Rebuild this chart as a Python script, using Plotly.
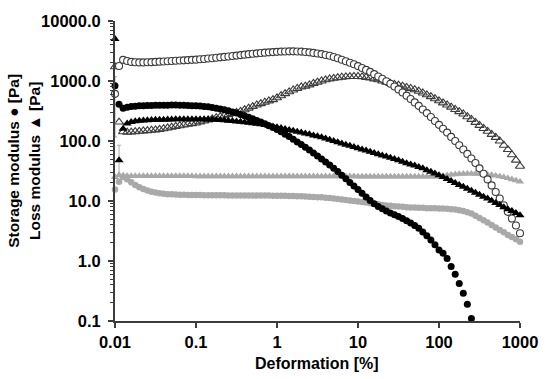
import plotly.graph_objects as go

# Strain sweep grid (deformation, %)
strain = [0.01, 0.01122, 0.01259, 0.01413, 0.01585, 0.01778, 0.01995, 0.02239, 0.02512, 0.02818,
          0.03162, 0.03548, 0.03981, 0.04467, 0.05012, 0.05623, 0.0631, 0.07079, 0.07943, 0.08913,
          0.1, 0.1122, 0.1259, 0.1413, 0.1585, 0.1778, 0.1995, 0.2239, 0.2512, 0.2818,
          0.3162, 0.3548, 0.3981, 0.4467, 0.5012, 0.5623, 0.631, 0.7079, 0.7943, 0.8913,
          1.0, 1.122, 1.259, 1.413, 1.585, 1.778, 1.995, 2.239, 2.512, 2.818,
          3.162, 3.548, 3.981, 4.467, 5.012, 5.623, 6.31, 7.079, 7.943, 8.913,
          10.0, 11.22, 12.59, 14.13, 15.85, 17.78, 19.95, 22.39, 25.12, 28.18,
          31.62, 35.48, 39.81, 44.67, 50.12, 56.23, 63.1, 70.79, 79.43, 89.13,
          100.0, 112.2, 125.9, 141.3, 158.5, 177.8, 199.5, 223.9, 251.2, 281.8,
          316.2, 354.8, 398.1, 446.7, 501.2, 562.3, 631.0, 707.9, 794.3, 891.3,
          1000.0]

# Storage modulus, sample 2 (open circles)
g1_open = [611, 1780, 2250, 2150, 2080, 2050, 2040, 2040, 2050, 2060,
           2080, 2100, 2110, 2130, 2150, 2170, 2190, 2210, 2230, 2250,
           2270, 2300, 2330, 2370, 2400, 2440, 2480, 2520, 2560, 2610,
           2650, 2700, 2750, 2800, 2850, 2890, 2930, 2970, 3000, 3030,
           3060, 3090, 3110, 3120, 3120, 3110, 3090, 3050, 3000, 2940,
           2880, 2810, 2720, 2630, 2510, 2400, 2260, 2140, 2020, 1900,
           1770, 1650, 1530, 1420, 1300, 1190, 1090, 990, 900, 812,
           725, 645, 570, 502, 440, 385, 335, 292, 251, 216,
           186, 160, 138, 117, 100, 85, 72, 61, 51, 43,
           35, 28.5, 22.9, 18.2, 14.1, 11.0, 8.5, 6.6, 5.1, 3.9,
           2.9]

# Loss modulus, sample 2 (open triangles)
g2_open = [1730, 207, 143, 140, 141, 143, 145, 147, 149, 151,
           153, 156, 160, 165, 170, 175, 180, 185, 190, 195,
           200, 208, 216, 225, 234, 244, 254, 264, 275, 287,
           299, 312, 332, 353, 375, 398, 420, 443, 466, 490,
           525, 569, 617, 661, 708, 750, 794, 822, 861, 912,
           955, 1000, 1047, 1079, 1109, 1135, 1156, 1175, 1186, 1191,
           1189, 1175, 1148, 1122, 1084, 1047, 1000, 955, 912, 881,
           851, 822, 785, 750, 716, 676, 631, 589, 550, 507,
           468, 432, 398, 367, 335, 309, 282, 254, 229, 204,
           182, 162, 145, 129, 115, 100, 85, 72, 59, 48,
           38]

# Storage modulus, sample 1 (filled black circles)
g1_black = [830, 408, 351, 365, 375, 380, 385, 388, 390, 392,
            394, 395, 396, 396, 397, 397, 396, 394, 391, 388,
            385, 382, 377, 372, 363, 353, 343, 331, 318, 305,
            292, 277, 263, 248, 234, 220, 207, 193, 180, 168,
            155, 143, 130, 119, 107, 96.6, 87.1, 78.5, 70.5, 63.1,
            56.2, 50.1, 44.7, 39.8, 35.1, 30.9, 26.9, 23.4, 20.4, 17.8,
            15.5, 13.5, 11.7, 10.2, 9.0, 8.1, 7.4, 6.8, 6.3, 5.9,
            5.5, 5.1, 4.7, 4.3, 3.9, 3.5, 3.05, 2.63, 2.24, 1.86,
            1.53, 1.35, 1.1, 0.81, 0.6, 0.42, 0.29, 0.19, 0.11]

# Loss modulus, sample 1 (filled black triangles)
g2_black = [5000, 48, 160, 195, 207, 213, 217, 220, 222, 224,
            225, 226, 227, 228, 229, 230, 230, 231, 231, 231,
            231, 231, 230, 229, 228, 226, 224, 221, 218, 215,
            212, 209, 206, 202, 198, 194, 190, 185, 180, 175,
            170, 164, 158, 153, 148, 143, 138, 133, 129, 124,
            120, 115, 110, 105, 100, 95.5, 91, 87, 83, 79.4,
            75.9, 72.4, 69.2, 66.1, 63.1, 60.3, 57.5, 55, 52.5, 50.1,
            47.9, 45.2, 42.7, 40.7, 38.9, 36.9, 35, 32.7, 30.7, 28.7,
            26.9, 25, 23.2, 21.5, 20, 18.5, 17.2, 16, 14.8, 13.7,
            12.7, 11.8, 11, 10.1, 9.3, 8.6, 7.9, 7.3, 6.8, 6.3,
            5.8]

# Storage modulus, sample 3 (grey circles)
g1_grey = [15.6, 21, 25, 23, 20.5, 18.5, 17, 15.8, 15, 14.3,
           13.8, 13.5, 13.2, 13, 12.9, 12.8, 12.7, 12.7, 12.6, 12.6,
           12.6, 12.6, 12.5, 12.5, 12.5, 12.5, 12.5, 12.5, 12.4, 12.4,
           12.4, 12.4, 12.4, 12.4, 12.3, 12.3, 12.3, 12.3, 12.3, 12.2,
           12.2, 12.2, 12.2, 12.1, 12.1, 12.0, 12.0, 11.9, 11.8, 11.7,
           11.6, 11.5, 11.3, 11.2, 11.0, 10.8, 10.6, 10.4, 10.2, 10.0,
           9.8, 9.6, 9.4, 9.2, 9.0, 8.8, 8.6, 8.4, 8.3, 8.2,
           8.1, 8.0, 7.9, 7.8, 7.8, 7.7, 7.7, 7.6, 7.6, 7.6,
           7.5, 7.5, 7.4, 7.3, 7.2, 7.0, 6.8, 6.5, 6.2, 5.7,
           5.2, 4.8, 4.4, 4.0, 3.6, 3.3, 3.0, 2.7, 2.5, 2.3,
           2.1]

# Loss modulus, sample 3 (grey triangles)
g2_grey = [25, 27, 26.5, 26, 26, 26, 26, 26, 26, 26,
           26, 26, 26, 26, 26, 26, 26, 26, 26, 26,
           25.8, 25.8, 25.8, 25.8, 25.8, 25.8, 25.8, 25.8, 25.8, 25.8,
           25.8, 25.8, 25.8, 25.8, 25.8, 25.8, 25.8, 25.8, 25.8, 25.8,
           25.8, 25.8, 25.8, 25.8, 25.8, 25.8, 25.8, 25.8, 25.8, 25.8,
           25.8, 25.8, 25.8, 25.8, 25.8, 25.8, 25.8, 25.8, 25.8, 25.8,
           25.5, 25.5, 25.5, 25.5, 25.5, 25.5, 25.5, 25.5, 25.5, 25.5,
           25.5, 25.5, 25.5, 25.5, 25.5, 25.5, 25.5, 25.5, 25.5, 25.5,
           25.8, 26.2, 26.8, 27.4, 27.9, 28.2, 28.4, 28.5, 28.5, 28.4,
           28.2, 27.9, 27.5, 27.0, 26.4, 25.7, 24.9, 24.0, 23.0, 22.0,
           21.0]

# a few visible error bars (upper / lower extents)
err_open_plus = [569] + [0] * 100
err_open_minus = [494] + [0] * 100
err_tri_plus = [0, 37] + [0] * 99
err_tri_minus = [0, 22] + [0] * 99

y_ticks = [0.1, 1, 10, 100, 1000, 10000]
y_tick_text = ["0.1", "1.0", "10.0", "100.0", "1000.0", "10000.0"]
x_ticks = [0.01, 0.1, 1, 10, 100, 1000]
x_tick_text = ["0.01", "0.1", "1", "10", "100", "1000"]
y_minor = [m * d for d in [0.1, 1, 10, 100, 1000] for m in range(2, 10)]

GREY = "#a9a9a9"
DARK = "#3c3c3c"
FONT = "Liberation Sans, Arial, sans-serif"

fig = go.Figure()

fig.add_trace(go.Scatter(x=strain, y=g1_grey, mode="markers",
                         marker=dict(symbol="circle", size=6.5, color=GREY, line=dict(width=0))))
fig.add_trace(go.Scatter(x=strain, y=g2_grey, mode="markers",
                         marker=dict(symbol="triangle-up", size=7.5, color=GREY, line=dict(width=0))))
fig.add_trace(go.Scatter(x=strain, y=g2_open, mode="markers",
                         marker=dict(symbol="triangle-up-open", size=8, color=DARK, line=dict(width=1.1))))
fig.add_trace(go.Scatter(x=strain, y=g1_open, mode="markers",
                         error_y=dict(type="data", symmetric=False, array=err_open_plus,
                                      arrayminus=err_open_minus, color=GREY, thickness=1, width=2),
                         marker=dict(symbol="circle", size=7, color="white",
                                     line=dict(width=1.1, color=DARK))))
fig.add_trace(go.Scatter(x=strain, y=g2_black, mode="markers",
                         error_y=dict(type="data", symmetric=False, array=err_tri_plus,
                                      arrayminus=err_tri_minus, color=GREY, thickness=1, width=2),
                         marker=dict(symbol="triangle-up", size=8, color="black", line=dict(width=0))))
fig.add_trace(go.Scatter(x=strain[:len(g1_black)], y=g1_black, mode="markers",
                         marker=dict(symbol="circle", size=7, color="black", line=dict(width=0))))

fig.update_traces(cliponaxis=False, showlegend=False)

fig.update_xaxes(type="log", range=[-2, 3], tickvals=x_ticks, ticktext=x_tick_text,
                 ticks="outside", ticklen=5, tickwidth=1.5, tickcolor=DARK,
                 showline=True, linewidth=2, linecolor=DARK, showgrid=False, zeroline=False,
                 tickfont=dict(family=FONT, size=16.5, color="black", weight="bold"))
fig.update_yaxes(type="log", range=[-1, 4], tickvals=y_ticks, ticktext=y_tick_text,
                 ticks="outside", ticklen=5, tickwidth=1.5, tickcolor=DARK,
                 minor=dict(tickvals=y_minor, ticks="outside", ticklen=3, tickwidth=1, tickcolor=DARK),
                 showline=True, linewidth=2, linecolor=DARK, showgrid=False, zeroline=False,
                 ticklabelstandoff=4,
                 tickfont=dict(family=FONT, size=16.5, color="black", weight="bold"))

fig.add_annotation(text="<b>Deformation [%]</b>", xref="paper", yref="paper",
                   x=0.4976, y=-0.1405, xanchor="center", yanchor="middle", showarrow=False,
                   font=dict(family=FONT, size=16, color="black"))
fig.add_annotation(text="<b>Storage modulus ● [Pa]</b><br><b>Loss modulus ▲ [Pa]</b>",
                   xref="paper", yref="paper", x=-0.2258, y=0.5327, xanchor="center",
                   yanchor="middle", textangle=-90, showarrow=False, align="center",
                   font=dict(family=FONT, size=15.5, color="black"))

fig.update_layout(width=550, height=379, margin=dict(l=115, r=21, t=15, b=58),
                  paper_bgcolor="white", plot_bgcolor="white")

# remove the browser's default 8px body margin so the figure sits at the page origin
fig.write_html("out.html", config={"displayModeBar": False, "staticPlot": True},
               post_script="document.body.style.margin='0';")
